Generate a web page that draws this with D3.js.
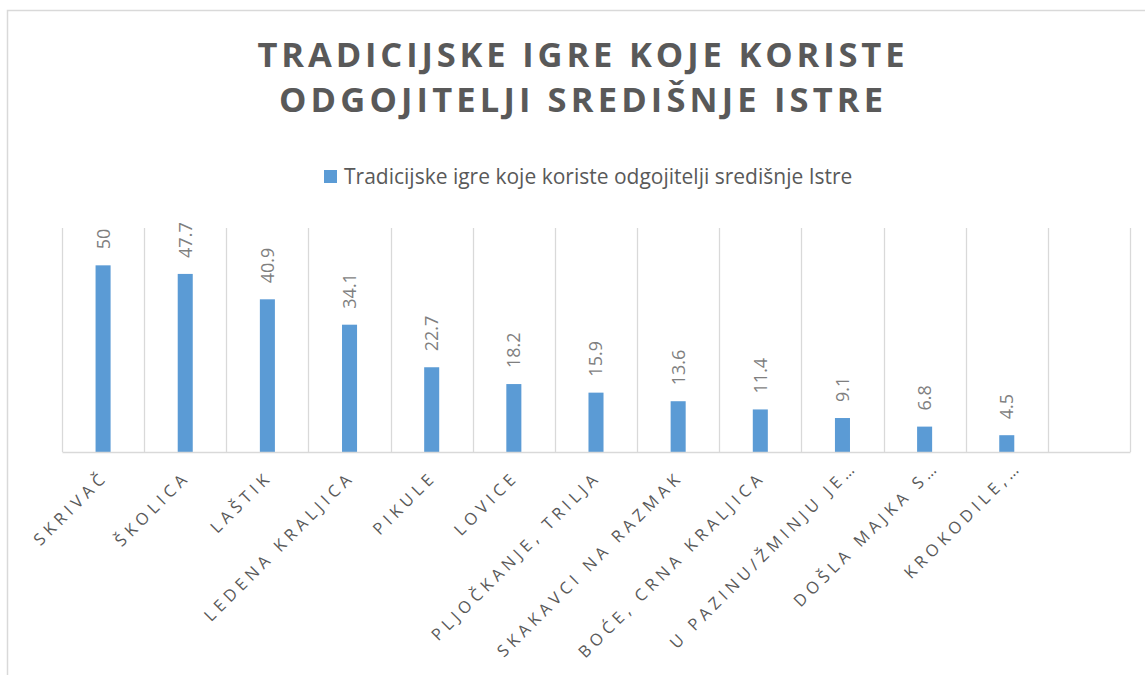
<!DOCTYPE html>
<html><head><meta charset="utf-8">
<script src="https://cdn.jsdelivr.net/npm/d3@7"></script>
<style>
html,body{margin:0;padding:0;background:#fff;}
svg{display:block;font-family:"Open Sans",sans-serif;}
</style></head>
<body>
<svg id="chart" width="1145" height="675"></svg>
<script>
const titleLines = ["TRADICIJSKE IGRE KOJE KORISTE", "ODGOJITELJI SREDIŠNJE ISTRE"];
const seriesName = "Tradicijske igre koje koriste odgojitelji središnje Istre";
const categories = ["SKRIVAČ","ŠKOLICA","LAŠTIK","LEDENA KRALJICA","PIKULE","LOVICE","PLJOČKANJE, TRILJA","SKAKAVCI NA RAZMAK","BOĆE, CRNA KRALJICA","U PAZINU/ŽMINJU JE…","DOŠLA MAJKA S…","KROKODILE,…",""];
const values = [50,47.7,40.9,34.1,22.7,18.2,15.9,13.6,11.4,9.1,6.8,4.5,null];
const yDomain = [0,60];

const svg = d3.select("#chart");
const plot = {left:62, right:1130, top:228, bottom:452};
const barColor = "#5B9BD5", gridColor = "#d9d9d9", textColor = "#595959", valColor = "#7f7f7f";

// frame
svg.append("rect").attr("x",7.5).attr("y",10.5).attr("width",1160).attr("height",700)
  .attr("fill","none").attr("stroke",gridColor).attr("stroke-width",1.5);

const idx = categories.map((d,i)=>i);
const x = d3.scaleBand().domain(idx).range([plot.left, plot.right]).paddingInner(0).paddingOuter(0);
const y = d3.scaleLinear().domain(yDomain).range([plot.bottom, plot.top]);

// title
const cx = 581;
svg.append("g").selectAll("text").data(titleLines).join("text")
  .attr("x",cx).attr("y",(d,i)=>67+i*45)
  .attr("text-anchor","middle").attr("fill",textColor)
  .attr("font-size",34.5).attr("font-weight",700)
  .attr("textLength",(d,i)=>i===0?647:604).attr("lengthAdjust","spacing")
  .text(d=>d);

// legend
svg.append("rect").attr("x",324).attr("y",170).attr("width",13).attr("height",13).attr("fill",barColor);
svg.append("text").attr("x",344).attr("y",184).attr("fill",textColor).attr("font-size",21)
  .text(seriesName);

// vertical gridlines at category boundaries
const bounds = idx.map(i=>x(i)).concat([plot.right]);
svg.append("g").selectAll("line").data(bounds).join("line")
  .attr("x1",d=>Math.round(d)+0.5).attr("x2",d=>Math.round(d)+0.5)
  .attr("y1",plot.top).attr("y2",plot.bottom)
  .attr("stroke",gridColor).attr("stroke-width",1.3);

// bars
const bw = x.step()*0.183;
const bars = idx.filter(i=>values[i]!=null);
svg.append("g").selectAll("rect").data(bars).join("rect")
  .attr("x",i=>x(i)+x.bandwidth()/2-bw/2).attr("width",bw)
  .attr("y",i=>y(values[i])).attr("height",i=>y(0)-y(values[i]))
  .attr("fill",barColor);

// axis baseline
const xAxis = d3.axisBottom(x).tickSize(0).tickFormat(()=> "");
const ax = svg.append("g").attr("transform",`translate(0,${plot.bottom})`).call(xAxis);
ax.select(".domain").attr("stroke",gridColor).attr("stroke-width",1.5);

// value labels
svg.append("g").selectAll("text").data(bars).join("text")
  .attr("transform",i=>`translate(${x(i)+x.bandwidth()/2},${y(values[i])-16}) rotate(-90)`)
  .attr("dy","0.36em").attr("fill",valColor).attr("font-size",18)
  .text(i=>values[i]);

// category labels (truncated labels keep the box of the full text, so they sit further along)
svg.append("g").selectAll("text").data(idx).join("text")
  .attr("transform",i=>{
    const t = categories[i].endsWith("…") ? 10 : 0;
    return `translate(${x(i)+x.bandwidth()/2+6+t},${plot.bottom+26-t}) rotate(-45)`;
  })
  .attr("text-anchor","end").attr("fill",textColor).attr("font-size",16.5)
  .attr("letter-spacing","4.6px")
  .text(i=>categories[i]);
</script>
</body></html>
